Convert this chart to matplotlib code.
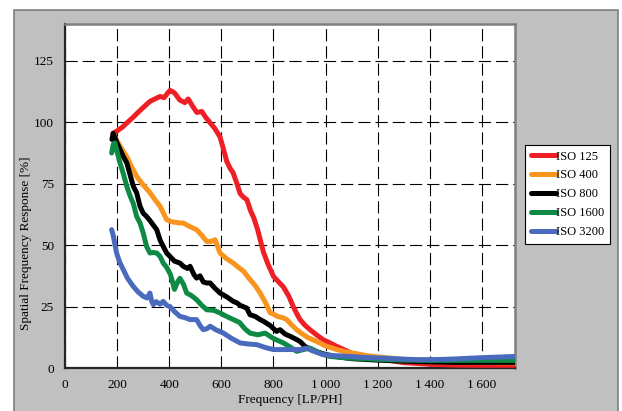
import matplotlib
matplotlib.use("Agg")
import matplotlib.pyplot as plt
from matplotlib.patches import Rectangle
from matplotlib.ticker import FuncFormatter

# данные
iso125_x = [184, 200, 220, 240, 261, 280, 300, 326, 345, 365, 380, 395, 403, 420, 441, 460, 473,
            490, 506, 525, 540, 557, 575, 595, 607, 621, 635, 645, 660, 672, 685, 698, 712, 725,
            740, 762, 780, 800, 820, 838, 860, 876, 890, 902, 920, 940, 965, 991, 1015, 1043,
            1070, 1100, 1150, 1200, 1250, 1300, 1400, 1500, 1600, 1727]
iso125_y = [95.5, 96.5, 98, 100, 102, 104, 106, 108.5, 109.5, 110.5, 110, 112, 113, 112, 109, 108,
            109.5, 106.5, 104, 104.4, 102, 99.8, 97.5, 94, 89.5, 84, 81, 79.5, 75, 71, 69.5, 68.5,
            64, 61, 56, 47, 42, 37.3, 35, 33, 29, 25, 22, 19.7, 17.5, 15.6, 13.5, 11.5, 10.3, 8.8,
            7.5, 6, 4.8, 4, 3, 2.2, 1.5, 1.2, 1.1, 1.1]

iso400_x = [185, 192, 210, 237, 255, 275, 300, 326, 345, 365, 380, 390, 410, 441, 454, 480, 505,
            525, 544, 560, 576, 595, 620, 646, 665, 684, 710, 730, 749, 770, 787, 799, 815, 838,
            851, 870, 889, 902, 930, 966, 1000, 1043, 1080, 1120, 1160, 1200, 1300, 1400, 1500,
            1600, 1727]
iso400_y = [95.5, 94, 90.5, 86, 82, 78, 74.5, 71.4, 68.5, 65.8, 62.5, 60.4, 59.5, 59, 59, 57.5,
            56.3, 54, 51.5, 51.5, 52.2, 46.8, 44.5, 42.7, 41, 39.5, 36, 33.5, 30.5, 26.5, 22.5, 22,
            21, 20.4, 19.7, 17.5, 15.6, 14.5, 12.5, 10.8, 9, 7.5, 6.5, 5.8, 5, 4.5, 3.5, 3, 2.6,
            2.3, 2.1]

iso800_x = [180, 185, 200, 224, 237, 262, 275, 288, 300, 313, 326, 352, 365, 377, 390, 403, 420,
            441, 454, 470, 480, 495, 505, 518, 531, 544, 557, 575, 595, 620, 646, 660, 672, 697,
            710, 730, 749, 762, 787, 812, 825, 845, 864, 885, 902, 921, 950, 1000, 1050, 1100,
            1200, 1300, 1400, 1500, 1600, 1727]
iso800_y = [93, 95.5, 91.5, 86, 83.5, 74, 71.3, 65.8, 63, 61.7, 60, 56.3, 52, 49.5, 46.8, 45.4,
            43.5, 42.7, 41.4, 40.5, 41.4, 38, 36.6, 37.5, 35, 34.6, 34.6, 32.5, 30.5, 29, 27.1,
            26.5, 25.5, 24.4, 21.7, 21, 19.7, 19, 17.3, 14.9, 15.6, 13.8, 12.9, 11.8, 10.8, 8.8,
            7.2, 5.5, 4.5, 3.8, 3.2, 2.8, 2.5, 2.3, 2.3, 2.3]

iso1600_x = [179, 185, 192, 200, 211, 224, 237, 250, 262, 275, 288, 300, 313, 326, 340, 352, 365,
             377, 390, 405, 420, 432, 441, 455, 467, 485, 505, 525, 544, 570, 595, 620, 646, 670,
             690, 710, 740, 768, 800, 838, 865, 889, 915, 940, 980, 1017, 1060, 1094, 1150, 1200,
             1300, 1400, 1500, 1600, 1727]
iso1600_y = [87.5, 91, 91.6, 88, 83.5, 79, 74, 70, 67, 61.7, 59, 55, 49.5, 46.8, 47, 46.8, 45.4,
             42.7, 41, 38, 32, 35, 36.5, 34, 30.5, 29.5, 27.8, 25.5, 23.7, 23.5, 22.4, 21, 19.7,
             18.5, 16, 14.2, 13.5, 14.2, 12, 10.2, 8.5, 6.8, 7.5, 8.1, 6, 4.7, 4.3, 4, 3.8, 3.5,
             3.2, 3.1, 3.1, 3.1, 3.1]

iso3200_x = [179, 185, 192, 198, 210, 224, 240, 262, 280, 300, 315, 326, 333, 339, 350, 365, 377,
             390, 403, 420, 441, 460, 480, 505, 520, 531, 545, 557, 580, 608, 640, 672, 700, 736,
             770, 800, 850, 902, 927, 950, 991, 1040, 1094, 1150, 1222, 1300, 1350, 1400, 1450,
             1500, 1600, 1727]
iso3200_y = [56.3, 54, 50, 46.8, 43, 40, 36.5, 33.2, 31, 29.2, 28.5, 30.5, 27, 25.8, 27, 26, 27.1,
             25.5, 25, 23, 21, 20.5, 19.7, 19.7, 17, 15.6, 16, 17, 15.5, 14.2, 12, 10.2, 9.8, 9.5,
             8.3, 7.5, 7.5, 7.5, 8.1, 7, 5.4, 5, 4.7, 4.3, 4, 3.6, 3.4, 3.4, 3.5, 3.7, 4.2, 4.7]

series = [
    ("ISO 125", iso125_x, iso125_y, "#EE2026"),
    ("ISO 400", iso400_x, iso400_y, "#F7951F"),
    ("ISO 800", iso800_x, iso800_y, "#000000"),
    ("ISO 1600", iso1600_x, iso1600_y, "#0F8A45"),
    ("ISO 3200", iso3200_x, iso3200_y, "#4A6BBD"),
]

x_ticks = [0, 200, 400, 600, 800, 1000, 1200, 1400, 1600]
y_ticks = [0, 25, 50, 75, 100, 125]

plt.rcParams['font.family'] = ['Liberation Serif', 'DejaVu Serif']
plt.rcParams['font.size'] = 9.5

fig = plt.figure(figsize=(6.22, 4.11), dpi=100)
fig.patch.set_facecolor('white')
# серая подложка диаграммы
bg = Rectangle((14 / 622, -0.01), 604 / 622, 1 - 10 / 411 + 0.01,
               transform=fig.transFigure, facecolor='#C0C0C0',
               edgecolor='#7F7F7F', linewidth=1.2, zorder=-5)
fig.add_artist(bg)

ax = fig.add_axes([65 / 622, 1 - 368 / 411, 450 / 622, 344 / 411])
ax.set_zorder(1)
ax.set_facecolor('white')

for label, xs, ys, color in series:
    ax.plot(xs, ys, color=color, linewidth=3.6, label=label,
            solid_capstyle='round', solid_joinstyle='round', zorder=3)

ax.set_xlim(0, 1727)
ax.set_ylim(0, 140)
ax.set_xticks(x_ticks)
ax.set_yticks(y_ticks)
ax.xaxis.set_major_formatter(FuncFormatter(lambda v, p: f"{int(v):,}".replace(",", "\u2009")))
ax.tick_params(length=0, pad=8, labelsize=9.5)
ax.grid(True, color='black', linewidth=0.8, linestyle=(0, (11, 4.5)), zorder=1)

for side in ('left', 'bottom'):
    ax.spines[side].set_color('#262626')
    ax.spines[side].set_linewidth(1.6)
for side in ('top', 'right'):
    ax.spines[side].set_color('#7F7F7F')
    ax.spines[side].set_linewidth(1.8)

ax.set_xlabel('Frequency [LP/PH]', fontsize=9.5)
ax.xaxis.set_label_coords(0.5, -0.076)
ax.set_ylabel('Spatial Frequency Response [%]', fontsize=9.5)
ax.yaxis.set_label_coords(-0.073, 0.363)

leg = ax.legend(loc='upper left', bbox_to_anchor=(525 / 622, 1 - 145 / 411),
                bbox_transform=fig.transFigure, borderaxespad=0, frameon=True,
                fancybox=False, edgecolor='black', facecolor='white', framealpha=1,
                handlelength=2.0, handletextpad=0.05,
                labelspacing=0.55, borderpad=0.45, fontsize=9)
leg.get_frame().set_linewidth(0.8)
for line in leg.get_lines():
    line.set_linewidth(3.6)
    line.set_solid_capstyle('round')

fig.savefig('out.png', dpi=100)
